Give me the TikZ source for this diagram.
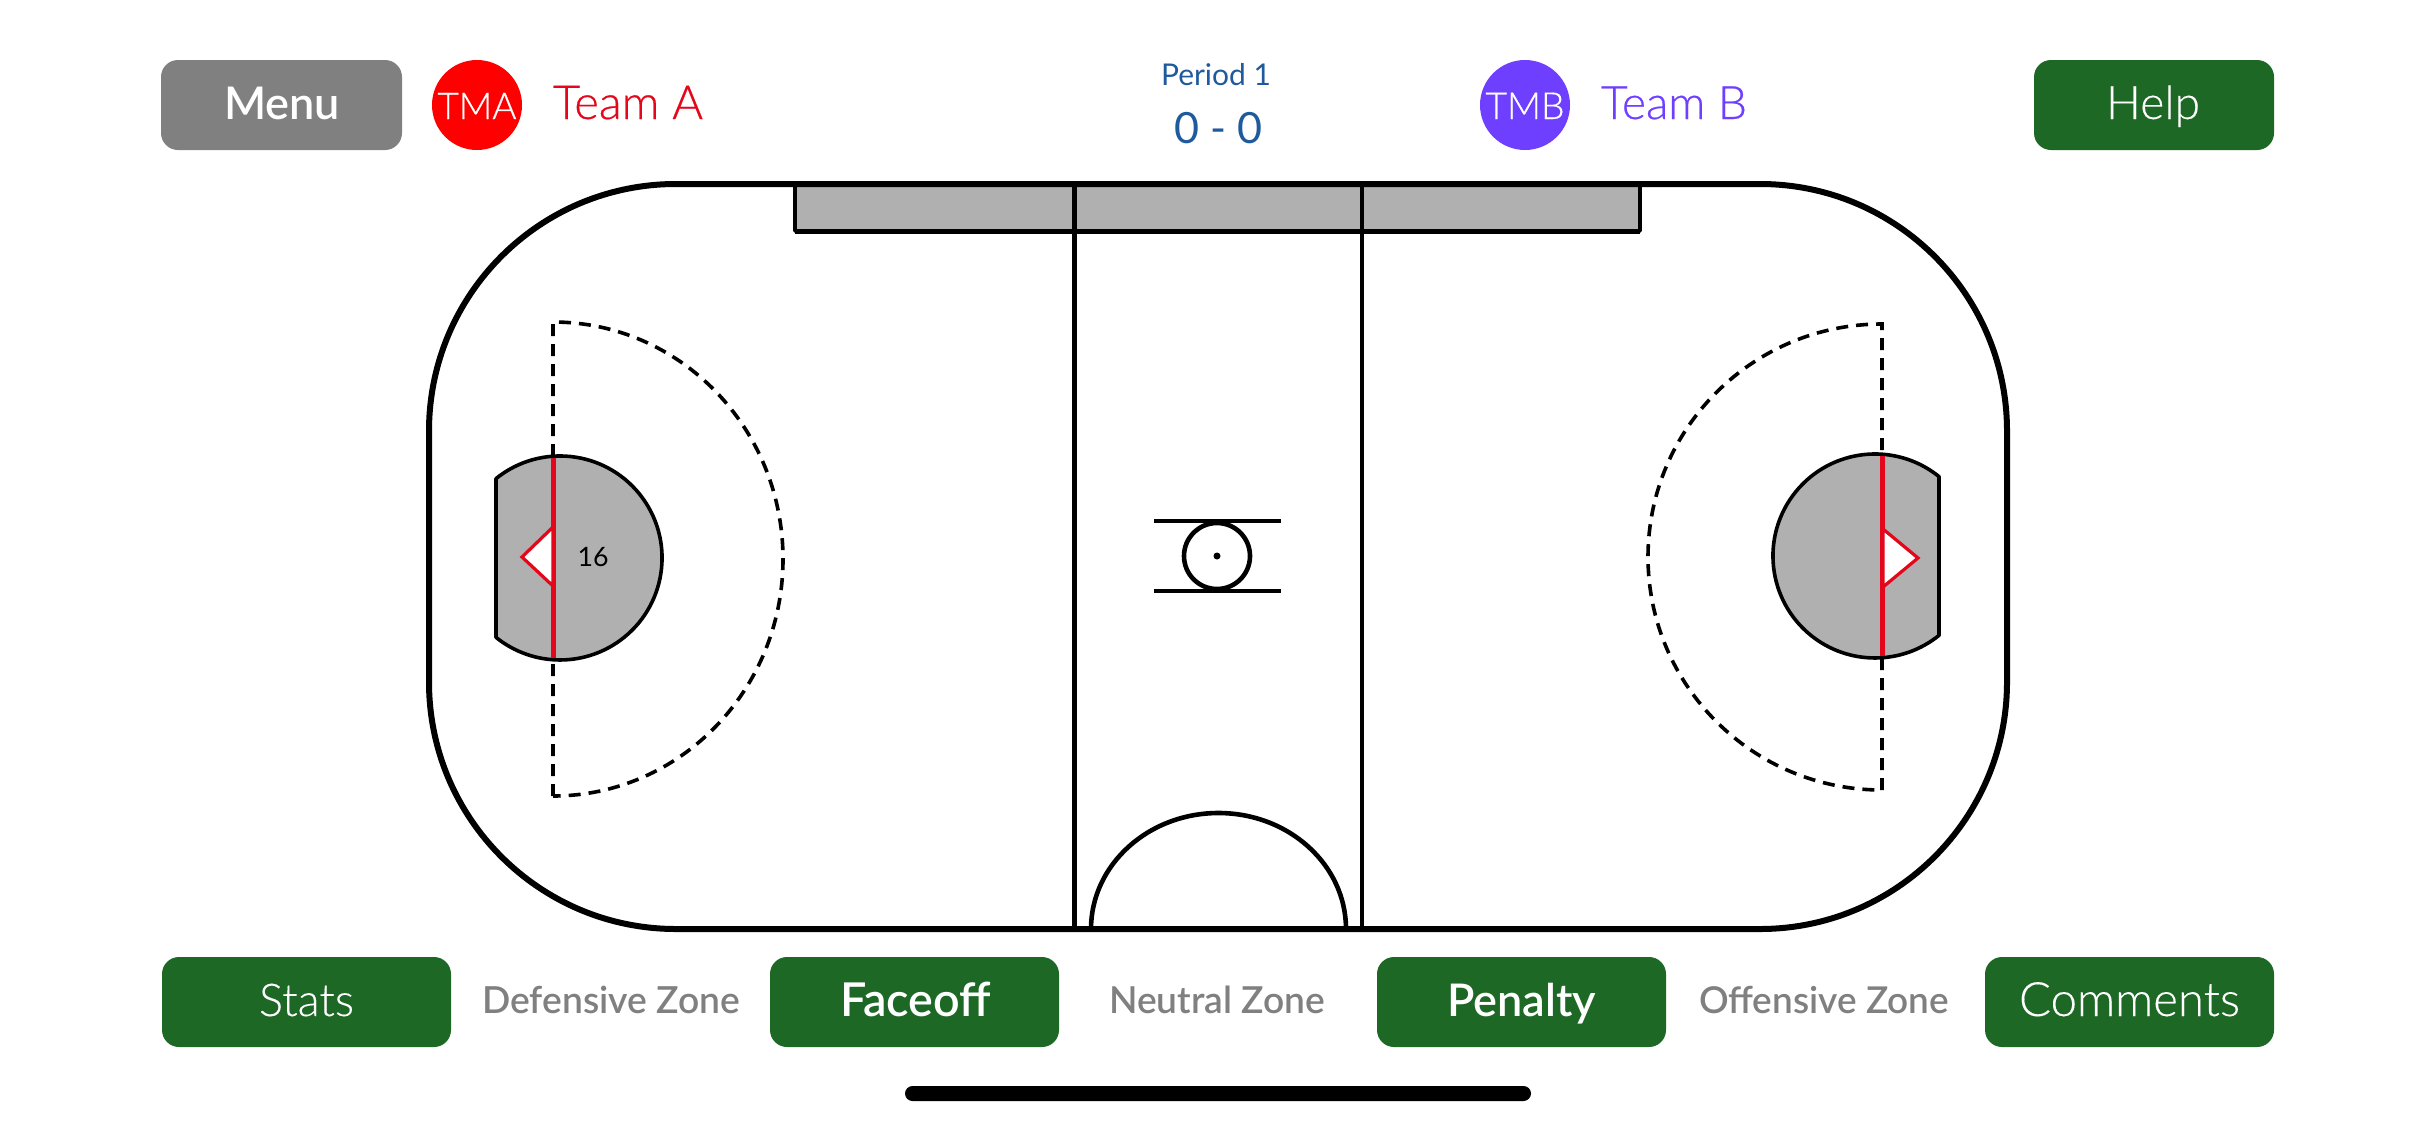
\documentclass[tikz,border=0pt]{standalone}
\usepackage{fontspec}
\usepackage{graphicx}
\setmainfont{Lato}
\newfontfamily\lightface[FakeBold=0.2]{Lato Light}
\newfontfamily\bookface[FakeBold=0.5]{Lato Light}
\newfontfamily\boldface{Lato Semibold}
\definecolor{btngreen}{HTML}{1D6825}
\definecolor{btngray}{HTML}{808080}
\definecolor{zonegray}{HTML}{808080}
\definecolor{fillgray}{HTML}{B0B0B0}
\definecolor{teamred}{HTML}{FE0000}
\definecolor{teamtext}{HTML}{E4061A}
\definecolor{teamviolet}{HTML}{6F3FFF}
\definecolor{scoreblue}{HTML}{1F5A9E}
\definecolor{linered}{HTML}{E4061A}
\newcommand{\fitw}[2]{\resizebox{#1pt}{!}{#2}}
\tikzset{
  x=1pt,y=-1pt,
  button/.style={draw=none,rounded corners=17pt},
  lbl/.style={inner sep=0pt,outer sep=0pt,anchor=base},
  rinkline/.style={draw=black,line width=6pt},
  markline/.style={draw=black,line width=4.6pt},
  creaseline/.style={draw=black,line width=3.6pt,fill=fillgray,line join=round},
  redline/.style={draw=linered,line width=5pt},
  redtri/.style={draw=linered,line width=3.2pt,fill=white,line join=miter},
  dashline/.style={draw=black,line width=3.6pt,dash pattern=on 12pt off 8pt},
}
\begin{document}
\begin{tikzpicture}
\useasboundingbox (0,0) rectangle (2436,1125);
\fill[white] (0,0) rectangle (2436,1125);
% top buttons
\fill[btngray,button] (161,60) rectangle (402,150);
\fill[btngreen,button] (2034,60) rectangle (2274,150);
\fill[teamred] (477,105) circle[radius=45];
\fill[teamviolet] (1525,105) circle[radius=45];
\node[lbl,white] (menu) at (282,119) {\fitw{116}{\fontsize{44}{50}\boldface Menu}};
\node[lbl,white] (help) at (2153,119) {\fitw{94}{\fontsize{44}{50}\lightface Help}};
\node[lbl,white] (tma) at (477,119) {\fitw{79}{\fontsize{38}{44}\bookface TMA}};
\node[lbl,white] (tmb) at (1525,119) {\fitw{79}{\fontsize{38}{44}\bookface TMB}};
\node[lbl,teamtext] (teama) at (628,119) {\fitw{150}{\fontsize{44}{50}\bookface Team A}};
\node[lbl,teamviolet] (teamb) at (1674,119) {\fitw{146}{\fontsize{44}{50}\bookface Team B}};
\node[lbl,scoreblue] (period) at (1216,85) {\fitw{110}{\fontsize{30}{36}\selectfont Period 1}};
\node[lbl,scoreblue] (score) at (1218,143) {\fitw{88}{\fontsize{44}{50}\selectfont 0 - 0}};
% rink
\fill[fillgray] (795,184) rectangle (1640,231);
\draw[black,line width=3.6pt,line join=round] (795,184) -- (795,231) -- (1640,231) -- (1640,184);
\draw[black,line width=5pt] (795,231) -- (1640,231);
\draw[markline] (1074.5,184) -- (1074.5,929);
\draw[markline] (1362,184) -- (1362,929);
\draw[rinkline] (676,184) -- (1760,184) arc[start angle=-90,end angle=0,radius=247]
  -- (2007,682) arc[start angle=0,end angle=90,radius=247]
  -- (676,929) arc[start angle=90,end angle=180,radius=247]
  -- (429,431) arc[start angle=180,end angle=270,radius=247] -- cycle;
% centre
\draw[markline] (1154,521) -- (1281,521);
\draw[markline] (1154,591) -- (1281,591);
\draw[markline] (1217,556) circle[radius=33];
\fill (1217,556) circle[radius=3.5];
\draw[markline] (1091,929) arc[start angle=180,end angle=0,x radius=127.5,y radius=-116];
% left zone
\draw[dashline] (553,796) -- (553,322) arc[start angle=-90,end angle=90,x radius=230,y radius=237];
\draw[creaseline] (496,478.6) arc[start angle=-128.9,end angle=128.9,radius=102] -- cycle;
\draw[redline] (553,458) -- (553,658);
\draw[redtri] (553,527) -- (522,557) -- (553,586) -- cycle;
\node[lbl,black] (num) at (593,566) {\fitw{31}{\fontsize{30}{36}\selectfont 16}};
% right zone
\draw[dashline] (1882,790) -- (1882,324) arc[start angle=-90,end angle=-270,x radius=234,y radius=233];
\draw[creaseline] (1939,476.6) arc[start angle=-51.1,end angle=-308.9,radius=102] -- cycle;
\draw[redline] (1882,456) -- (1882,656);
\draw[redtri] (1883,529) -- (1918,558) -- (1883,587) -- cycle;
% bottom buttons
\fill[btngreen,button] (162,957) rectangle (451,1047);
\fill[btngreen,button] (770,957) rectangle (1059,1047);
\fill[btngreen,button] (1377,957) rectangle (1666,1047);
\fill[btngreen,button] (1985,957) rectangle (2274,1047);
\node[lbl,white] (stats) at (306.5,1016) {\fitw{95}{\fontsize{42}{48}\lightface Stats}};
\node[lbl,white] (faceoff) at (915.5,1016) {\fitw{151}{\fontsize{44}{50}\boldface Faceoff}};
\node[lbl,white] (penalty) at (1521.5,1016) {\fitw{149}{\fontsize{44}{50}\boldface Penalty}};
\node[lbl,white] (comments) at (2129.5,1016) {\fitw{221}{\fontsize{42}{48}\lightface Comments}};
\node[lbl,zonegray] (dz) at (611,1013) {\fitw{258}{\fontsize{34}{40}\boldface Defensive Zone}};
\node[lbl,zonegray] (nz) at (1217,1013) {\fitw{216}{\fontsize{34}{40}\boldface Neutral Zone}};
\node[lbl,zonegray] (oz) at (1824,1013) {\fitw{250}{\fontsize{34}{40}\boldface Offensive Zone}};
% home bar
\fill[black,rounded corners=7.5pt] (905,1086) rectangle (1531,1101);
\end{tikzpicture}
\end{document}
